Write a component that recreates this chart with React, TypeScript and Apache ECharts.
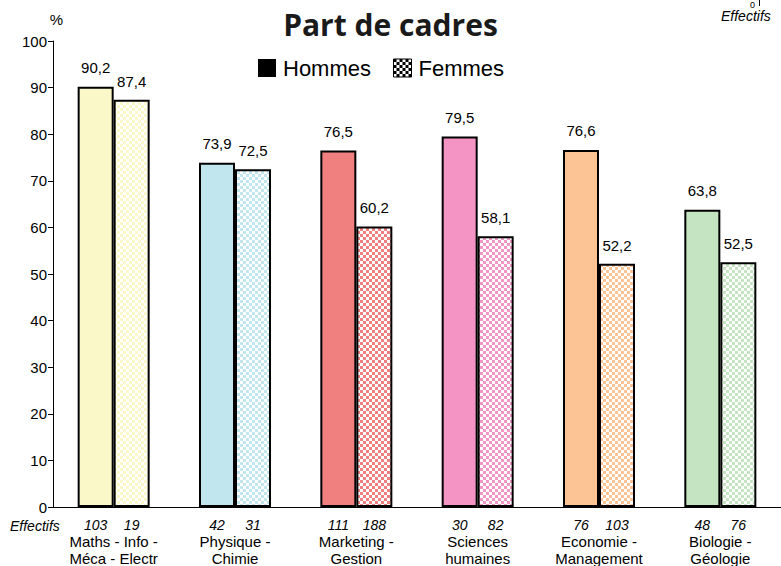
import React, { useEffect, useRef } from "react";
import * as echarts from "echarts";

const categories = [
  "Maths - Info -\nMéca - Electr",
  "Physique -\nChimie",
  "Marketing -\nGestion",
  "Sciences\nhumaines",
  "Economie -\nManagement",
  "Biologie -\nGéologie",
];
const hommes = [90.2, 73.9, 76.5, 79.5, 76.6, 63.8];
const femmes = [87.4, 72.5, 60.2, 58.1, 52.2, 52.5];
const effectifsHommes = [103, 42, 111, 30, 76, 48];
const effectifsFemmes = [19, 31, 188, 82, 103, 76];
const colors = ["#FAF8C8", "#C2E6EE", "#F08080", "#F494C4", "#FCC494", "#C4E4C2"];

const FONT = "'Liberation Sans', Arial, sans-serif";

function checker(color: string) {
  const c = document.createElement("canvas");
  c.width = 6;
  c.height = 6;
  const ctx = c.getContext("2d")!;
  ctx.fillStyle = "#ffffff";
  ctx.fillRect(0, 0, 6, 6);
  ctx.fillStyle = color;
  ctx.fillRect(0, 0, 3, 3);
  ctx.fillRect(3, 3, 3, 3);
  return { image: c.toDataURL(), repeat: "repeat", imageWidth: 6, imageHeight: 6 } as any;
}

export default function App() {
  const ref = useRef<HTMLDivElement>(null);
  useEffect(() => {
    if (!ref.current) return;
    const chart = echarts.init(ref.current, null, { renderer: "svg" });
    const fmt = (p: any) => Number(p.value).toFixed(1).replace(".", ",");
    chart.setOption({
      animation: false,
      backgroundColor: "#ffffff",
      title: {
        text: "Part de cadres",
        left: "center",
        top: 7,
        padding: 0,
        textStyle: { fontFamily: "'Open Sans', sans-serif", fontWeight: "bold", fontSize: 30, lineHeight: 34, color: "#1a1a1a" },
      },
      legend: {
        left: 258,
        top: 57,
        padding: 0,
        icon: "rect",
        itemWidth: 18,
        itemHeight: 18,
        itemGap: 22,
        textStyle: { fontFamily: FONT, fontSize: 22, color: "#000", padding: [0, 0, 0, 2] },
        data: [
          { name: "Hommes", itemStyle: { color: "#000", borderWidth: 0 } },
          { name: "Femmes", itemStyle: { color: checker("#000"), borderColor: "#000", borderWidth: 1 } },
        ],
      },
      grid: { left: 53, top: 41, width: 732, height: 468, containLabel: false },
      xAxis: {
        type: "category",
        data: categories,
        axisLine: { lineStyle: { color: "#000", width: 1 } },
        axisTick: { length: 6, lineStyle: { color: "#000" } },
        axisLabel: {
          margin: 10,
          interval: 0,
          formatter: (v: string, i: number) => {
            const lines = v.split("\n").map((l) => `{t|${l}}`).join("\n");
            return `{c|${effectifsHommes[i]}}{c|${effectifsFemmes[i]}}\n${lines}`;
          },
          rich: {
            c: { width: 36, align: "center", fontStyle: "italic", fontSize: 14, lineHeight: 16, fontFamily: FONT, color: "#000" },
            t: { fontSize: 15, lineHeight: 17, fontFamily: FONT, color: "#000", align: "center" },
          },
        },
      },
      yAxis: {
        type: "value",
        min: 0,
        max: 100,
        interval: 10,
        name: "%",
        nameGap: 14,
        nameTextStyle: { fontFamily: FONT, fontSize: 15, color: "#000", align: "center", padding: [0, 0, 0, 7] },
        splitLine: { show: false },
        axisLine: { show: true, lineStyle: { color: "#000", width: 1 } },
        axisTick: { show: true, length: 5, lineStyle: { color: "#000" } },
        axisLabel: { margin: 6, fontFamily: FONT, fontSize: 15, color: "#000" },
      },
      series: [
        {
          name: "Hommes",
          type: "bar",
          barWidth: 36,
          barGap: "0%",
          itemStyle: { color: "#000", borderColor: "#000", borderWidth: 2 },
          label: { show: true, position: "top", distance: 12, formatter: fmt, fontFamily: FONT, fontSize: 15, color: "#000" },
          data: hommes.map((v, i) => ({ value: v, itemStyle: { color: colors[i] } })),
        },
        {
          name: "Femmes",
          type: "bar",
          barWidth: 36,
          itemStyle: { color: checker("#000"), borderColor: "#000", borderWidth: 2 },
          label: { show: true, position: "top", distance: 11, formatter: fmt, fontFamily: FONT, fontSize: 15, color: "#000" },
          data: femmes.map((v, i) => ({ value: v, itemStyle: { color: checker(colors[i]) } })),
        },
      ],
      graphic: [
        {
          type: "text",
          left: 10,
          top: 519,
          style: { text: "Effectifs", fontFamily: FONT, fontStyle: "italic", fontSize: 14, fill: "#000" },
        },
        {
          type: "text",
          left: 721,
          top: 9,
          style: { text: "Effectifs", fontFamily: FONT, fontStyle: "italic", fontSize: 14, fill: "#000" },
        },
        {
          type: "text",
          left: 750,
          top: 0,
          style: { text: "0", fontFamily: FONT, fontSize: 9, fill: "#000" },
        },
        {
          type: "line",
          shape: { x1: 759.5, y1: 0, x2: 759.5, y2: 6 },
          style: { stroke: "#000", lineWidth: 1 },
        },
      ],
    });
    return () => chart.dispose();
  }, []);
  return <div ref={ref} style={{ position: "fixed", left: 0, top: 0, width: 781, height: 566 }} />;
}
